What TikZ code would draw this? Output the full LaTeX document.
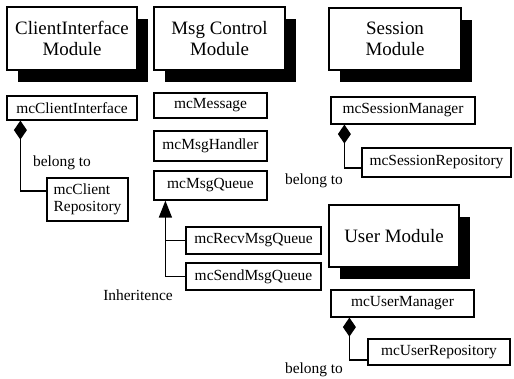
\documentclass[tikz,border=0pt]{standalone}
\usepackage{fontspec}
\setmainfont{Liberation Serif}
\usetikzlibrary{arrows.meta,shadows}
\begin{document}
\begin{tikzpicture}[x=1bp,y=-1bp,
  module/.style={draw, line width=1.2bp, fill=white, inner sep=0pt, align=center,
    font=\fontsize{19}{21}\selectfont,
    general shadow={fill=black, shadow xshift=11bp, shadow yshift=-12bp}},
  cls/.style={draw, line width=1.2bp, fill=white, inner sep=0pt, align=center,
    font=\fontsize{15.5}{16.5}\selectfont},
  link/.style={line width=1.4bp},
  comp/.style={link, -{Diamond[length=19bp,width=13bp]}},
  inh/.style={link, -{Triangle[length=17bp,width=13bp]}},
  lbl/.style={inner sep=0pt, font=\fontsize{15.5}{16.5}\selectfont}]
\useasboundingbox (0,0) rectangle (514,378);

% module headers
\node[module, minimum width=130bp, minimum height=63bp] (cim) at (72,38.5) {ClientInterface\\Module};
\node[module, minimum width=131bp, minimum height=63bp] (mcm) at (219.5,38.5) {Msg Control\\Module};
\node[module, minimum width=132bp, minimum height=62bp] (sm) at (395,39) {Session\\Module};
\node[module, minimum width=130bp, minimum height=62bp] (um) at (394,236) {User Module};

% client interface classes
\node[cls, minimum width=130bp, minimum height=24bp] (ci) at (72,108) {mcClientInterface};
\node[cls, align=left, minimum width=81bp, minimum height=43bp] (cr) at (87.5,199.5) {mcClient\\Repository};

% message control classes
\node[cls, minimum width=113bp, minimum height=25bp] (msg) at (210.5,105.5) {mcMessage};
\node[cls, minimum width=113bp, minimum height=30bp] (hdl) at (210.5,146) {mcMsgHandler};
\node[cls, minimum width=113bp, minimum height=29bp] (que) at (210.5,185.5) {mcMsgQueue};
\node[cls, minimum width=135bp, minimum height=27bp] (recv) at (253.5,240.5) {mcRecvMsgQueue};
\node[cls, minimum width=135bp, minimum height=27bp] (send) at (253.5,276.5) {mcSendMsgQueue};

% session classes
\node[cls, minimum width=144bp, minimum height=27bp] (smgr) at (403,110.5) {mcSessionManager};
\node[cls, minimum width=149bp, minimum height=29bp] (srep) at (436.5,162.5) {mcSessionRepository};

% user classes
\node[cls, minimum width=143bp, minimum height=27bp] (umgr) at (402.5,303.5) {mcUserManager};
\node[cls, minimum width=142bp, minimum height=26bp] (urep) at (439,352) {mcUserRepository};

% composition links
\draw[comp] ([yshift=8.5bp]cr.west) -| ([xshift=14bp]ci.south west);
\draw[comp] ([yshift=-5.5bp]srep.west) -| ([xshift=14bp]smgr.south west);
\draw[comp] ([yshift=-8bp]urep.west) -| ([xshift=19bp]umgr.south west);

% inheritance links
\coordinate (qtip) at ([xshift=12bp]que.south west);
\draw[inh] (send.west) -| (qtip);
\draw[link] (recv.west) -- (recv.west -| qtip);

% labels
\node[lbl] (bl1) at (62,163) {belong to};
\node[lbl] (bl2) at (314,181) {belong to};
\node[lbl] (bl3) at (314,370) {belong to};
\node[lbl] (inhl) at (138,295) {Inheritence};
\end{tikzpicture}
\end{document}
